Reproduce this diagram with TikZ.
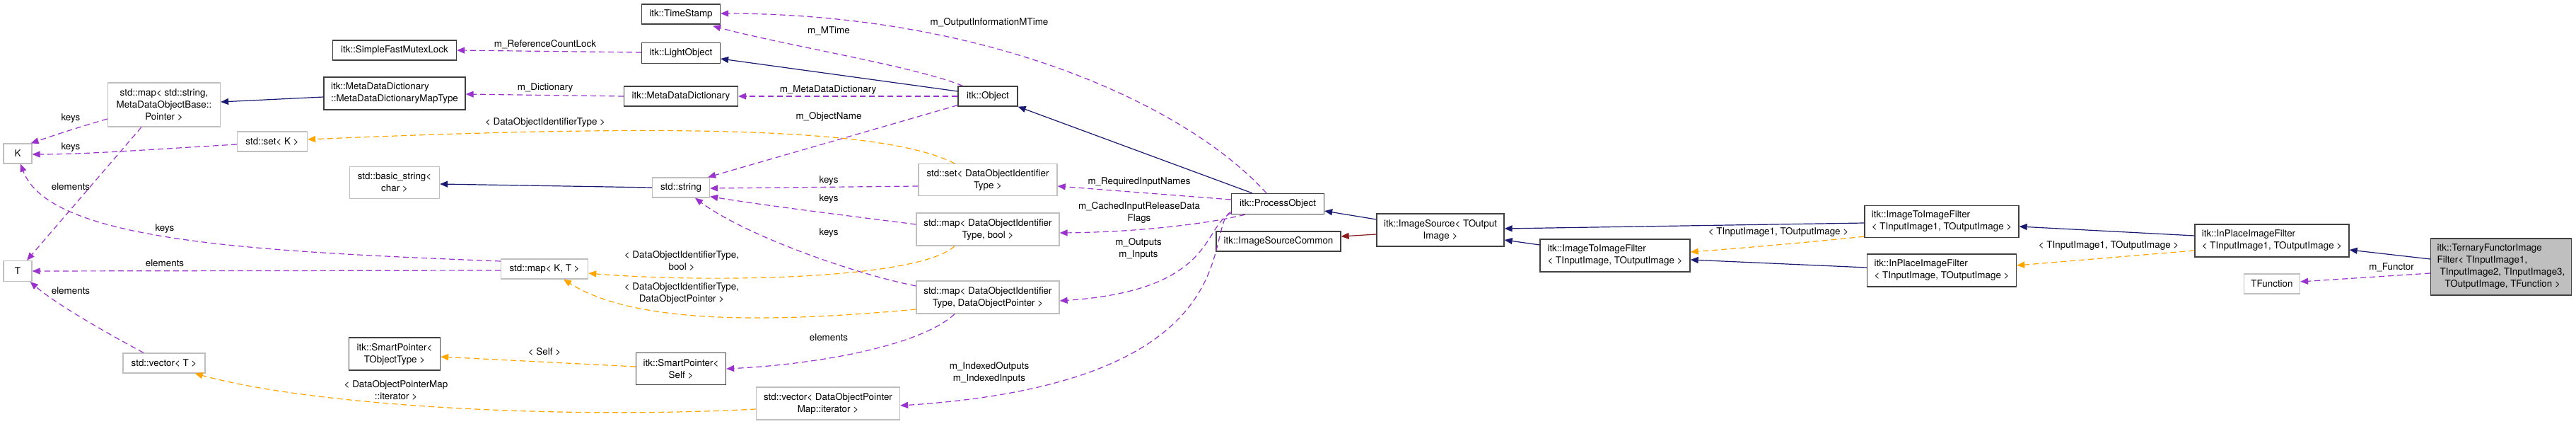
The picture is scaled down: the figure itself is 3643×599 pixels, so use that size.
\documentclass[tikz,border=0pt]{standalone}
\usepackage{fontspec}
\setmainfont{TeX Gyre Heros}
\usetikzlibrary{arrows.meta, calc}
\definecolor{navy}{HTML}{191970}
\definecolor{orchid}{HTML}{9A32CD}
\definecolor{amber}{HTML}{FFA500}
\definecolor{brick}{HTML}{8B1A1A}
\definecolor{frame}{HTML}{404040}
\definecolor{pale}{HTML}{BFBFBF}

\begin{document}
\begin{tikzpicture}[x=1pt, y=-1pt, font=\fontsize{13.4pt}{17pt}\selectfont,
  cls/.style={draw=frame, line width=1.3pt, fill=white, inner sep=2pt, minimum height=28pt, align=center},
  ext/.style={cls, draw=pale},
  lbl/.style={inner sep=0pt, align=center},
  inh/.style={-{Triangle[length=11pt, width=9pt]}, line width=1.2pt, navy},
  prot/.style={inh, brick},
  use/.style={-{Triangle[length=11pt, width=9pt]}, line width=1.2pt, orchid, dash pattern=on 8pt off 5pt},
  tpl/.style={use, amber}
]
  \useasboundingbox (0,0) rectangle (3643,599);

  % left part
  \node[ext, minimum width=40pt] (K) at (25,217) {K};
  \node[ext, minimum width=40pt, minimum height=29pt] (T) at (25,383) {T};
  \node[ext, minimum width=159pt, minimum height=62pt] (stdmapstr) at (232,148) {std::map< std::string,\\MetaDataObjectBase::\\Pointer >};
  \node[ext, minimum width=116pt] (vecT) at (232,513) {std::vector< T >};
  \node[ext, minimum width=99pt] (setK) at (385,200) {std::set< K >};
  \node[cls, minimum width=175pt] (mutexlock) at (558,71) {itk::SimpleFastMutexLock};
  \node[cls, minimum width=200pt, minimum height=46pt, align=left] (dictmap) at (558,132) {itk::MetaDataDictionary\\::MetaDataDictionaryMapType};
  \node[ext, minimum width=127pt, minimum height=45pt] (basicstr) at (558,258) {std::basic\_string<\\char >};
  \node[cls, minimum width=129pt, minimum height=46pt] (smartobj) at (558,500) {itk::SmartPointer<\\TObjectType >};
  \node[ext, minimum width=123pt] (mapKT) at (770,380) {std::map< K, T >};
  \node[cls, minimum width=111pt] (timestamp) at (963,20) {itk::TimeStamp};
  \node[cls, minimum width=111pt, minimum height=29pt] (lightobj) at (963,75) {itk::LightObject};
  \node[cls, minimum width=161pt] (dict) at (963,136) {itk::MetaDataDictionary};
  \node[ext, minimum width=81pt] (stdstring) at (963,265) {std::string};
  \node[cls, minimum width=127pt, minimum height=45pt] (smartself) at (963,521) {itk::SmartPointer<\\Self >};
  \node[ext, minimum width=203pt, minimum height=46pt] (vecDOP) at (1171,570) {std::vector< DataObjectPointer\\Map::iterator >};

  % middle part
  \node[cls, minimum width=84pt] (object) at (1397,136) {itk::Object};
  \node[ext, minimum width=196pt, minimum height=45pt] (setDOIT) at (1397,254) {std::set< DataObjectIdentifier\\Type >};
  \node[ext, minimum width=202pt, minimum height=46pt] (mapbool) at (1397,324) {std::map< DataObjectIdentifier\\Type, bool >};
  \node[ext, minimum width=202pt, minimum height=46pt] (mapDOP) at (1397,420) {std::map< DataObjectIdentifier\\Type, DataObjectPointer >};
  \node[cls, minimum width=131pt, minimum height=29pt] (procobj) at (1807,288) {itk::ProcessObject};
  \node[cls, minimum width=176pt] (srccommon) at (1808,341) {itk::ImageSourceCommon};
  \node[cls, minimum width=180pt, minimum height=46pt] (imgsrc) at (2037,325) {itk::ImageSource< TOutput\\Image >};

  % right part
  \node[cls, minimum width=212pt, minimum height=46pt, align=left] (itif) at (2284,361) {itk::ImageToImageFilter\\< TInputImage, TOutputImage >};
  \node[cls, minimum width=218pt, minimum height=45pt, align=left] (itif1) at (2746,313) {itk::ImageToImageFilter\\< TInputImage1, TOutputImage >};
  \node[cls, minimum width=211pt, minimum height=46pt, align=left] (inplace) at (2746,382) {itk::InPlaceImageFilter\\< TInputImage, TOutputImage >};
  \node[cls, minimum width=218pt, minimum height=46pt, align=left] (inplace1) at (3213,340) {itk::InPlaceImageFilter\\< TInputImage1, TOutputImage >};
  \node[ext, minimum width=79pt] (tfunc) at (3213,401) {TFunction};
  \node[cls, fill=pale, minimum width=199pt, minimum height=80pt, align=left] (ternary) at (3537,377) {itk::TernaryFunctorImage\\Filter< TInputImage1,\\\hspace*{4pt}TInputImage2, TInputImage3,\\\hspace*{11pt}TOutputImage, TFunction >};

  % labels
  \node[lbl] (l1) at (771,63) {m\_ReferenceCountLock};
  \node[lbl] (l2) at (771,124) {m\_Dictionary};
  \node[lbl] (l3) at (1172,44) {m\_MTime};
  \node[lbl] (l4) at (1399,32) {m\_OutputInformationMTime};
  \node[lbl] (l5) at (1171,127) {m\_MetaDataDictionary};
  \node[lbl] (l6) at (1172,165) {m\_ObjectName};
  \node[lbl] (l7) at (771,173) {< DataObjectIdentifierType >};
  \node[lbl] (l8) at (1172,255) {keys};
  \node[lbl] (l9) at (1172,281) {keys};
  \node[lbl] (l10) at (1172,329) {keys};
  \node[lbl] (l11) at (964,368) {< DataObjectIdentifierType,\\bool >};
  \node[lbl] (l12) at (964,414) {< DataObjectIdentifierType,\\DataObjectPointer >};
  \node[lbl] (l13) at (1172,477) {elements};
  \node[lbl] (l14) at (770,497) {< Self >};
  \node[lbl] (l15) at (560,551) {< DataObjectPointerMap\\::iterator >};
  \node[lbl] (l16) at (100,167) {keys};
  \node[lbl] (l17) at (100,208) {keys};
  \node[lbl] (l18) at (100,264) {elements};
  \node[lbl] (l19) at (233,323) {keys};
  \node[lbl] (l20) at (233,372) {elements};
  \node[lbl] (l21) at (100,411) {elements};
  \node[lbl] (l22) at (1611,257) {m\_RequiredInputNames};
  \node[lbl] (l23) at (1611,300) {m\_CachedInputReleaseData\\Flags};
  \node[lbl] (l24) at (1610,351) {m\_Outputs\\m\_Inputs};
  \node[lbl] (l25) at (1399,526) {m\_IndexedOutputs\\m\_IndexedInputs};
  \node[lbl] (l26) at (2515,328) {< TInputImage1, TOutputImage >};
  \node[lbl] (l27) at (2982,347) {< TInputImage1, TOutputImage >};
  \node[lbl] (l28) at (3382,378) {m\_Functor};

  % inheritance
  \draw[inh] ($(dictmap.west)+(0,5)$) -- ($(stdmapstr.east)+(0,-4)$);
  \draw[inh] (stdstring.west) -- ($(basicstr.east)+(0,2)$);
  \draw[inh] ($(object.west)+(0,-7)$) -- ($(lightobj.east)+(0,8)$);
  \draw[inh] ($(procobj.north)+(-36,0)$) -- (object.south east);
  \draw[inh] ($(imgsrc.west)+(0,-15)$) -- ($(procobj.east)+(0,10)$);
  \draw[prot] ($(imgsrc.west)+(0,6)$) -- ($(srccommon.east)+(0,-7)$);
  \draw[inh] ($(itif.west)+(0,-15)$) -- ($(imgsrc.east)+(0,14)$);
  \draw[inh] ($(itif1.west)+(0,2)$) -- ($(imgsrc.east)+(0,-2)$);
  \draw[inh] ($(inplace.west)+(0,-4)$) -- ($(itif.east)+(0,6)$);
  \draw[inh] ($(inplace1.west)+(0,-7)$) -- ($(itif1.east)+(0,7)$);
  \draw[inh] ($(ternary.west)+(0,-11)$) -- ($(inplace1.east)+(0,13)$);

  % members
  \draw[use] ($(lightobj.west)+(0,-1)$) -- (mutexlock.east);
  \draw[use] (dict.west) -- ($(dictmap.east)+(0,1)$);
  \draw[use] (object.west) -- (dict.east);
  \draw[use] ($(object.north west)+(7,0)$) .. controls (1300,95) and (1100,62) .. ($(timestamp.south east)+(-11,2)$);
  \draw[use] ($(procobj.north)+(-16,0)$) .. controls (1680,150) and (1400,20) .. ($(timestamp.east)+(0,-1)$);
  \draw[use] ($(object.south west)+(0,-2)$) -- ($(stdstring.north east)+(-3,0)$);
  \draw[use] ($(setDOIT.west)+(0,9)$) -- ($(stdstring.east)+(0,1)$);
  \draw[use] ($(mapbool.west)+(0,-7)$) .. controls (1200,305) and (1080,290) .. ($(stdstring.south east)+(0,-2)$);
  \draw[use] ($(mapDOP.west)+(0,-16)$) .. controls (1200,385) and (1050,330) .. ($(stdstring.south)+(20,0)$);
  \draw[use] ($(mapKT.west)+(0,-11)$) .. controls (350,355) and (70,340) .. ($(K.south)+(4,0)$);
  \draw[use] ($(mapKT.west)+(0,2)$) -- (T.east);
  \draw[use] ($(stdmapstr.west)+(0,20)$) .. controls (110,180) and (80,190) .. ($(K.north east)+(-2,0)$);
  \draw[use] ($(setK.west)+(0,4)$) .. controls (200,212) and (120,218) .. ($(K.east)+(0,1)$);
  \draw[use] ($(stdmapstr.south)+(-32,0)$) -- ($(T.north)+(13,0)$);
  \draw[use] ($(vecT.north)+(-29,0)$) .. controls (150,470) and (80,430) .. ($(T.south east)+(-3,0)$);
  \draw[use] ($(procobj.west)+(0,-6)$) -- ($(setDOIT.east)+(0,9)$);
  \draw[use] ($(procobj.south west)+(20,0)$) .. controls (1700,318) and (1600,328) .. ($(mapbool.east)+(0,5)$);
  \draw[use] ($(procobj.south west)+(0,-2)$) .. controls (1700,320) and (1720,410) .. ($(mapDOP.east)+(0,5)$);
  \draw[use] ($(procobj.south west)+(0,-4)$) .. controls (1700,320) and (1780,540) .. ($(vecDOP.east)+(0,3)$);
  \draw[use] ($(mapDOP.south)+(-47,0)$) .. controls (1300,490) and (1150,515) .. (smartself.east);
  \draw[use] ($(ternary.west)+(0,9)$) -- ($(tfunc.east)+(0,-3)$);

  % template arguments
  \draw[tpl] ($(setDOIT.north)+(-47,0)$) .. controls (1250,180) and (950,175) .. ($(setK.east)+(0,-3)$);
  \draw[tpl] ($(mapbool.south)+(-47,0)$) .. controls (1300,395) and (1000,400) .. ($(mapKT.east)+(0,6)$);
  \draw[tpl] ($(mapDOP.west)+(0,17)$) .. controls (1100,455) and (900,460) .. ($(mapKT.south)+(27,0)$);
  \draw[tpl] ($(smartself.west)+(0,-3)$) -- ($(smartobj.east)+(0,4)$);
  \draw[tpl] ($(vecDOP.west)+(0,8)$) .. controls (800,592) and (450,575) .. ($(vecT.south east)+(-15,0)$);
  \draw[tpl] ($(itif1.south west)+(0,-2)$) .. controls (2560,342) and (2470,350) .. ($(itif.east)+(0,-5)$);
  \draw[tpl] ($(inplace1.west)+(0,14)$) -- ($(inplace.east)+(0,-7)$);
\end{tikzpicture}
\end{document}
